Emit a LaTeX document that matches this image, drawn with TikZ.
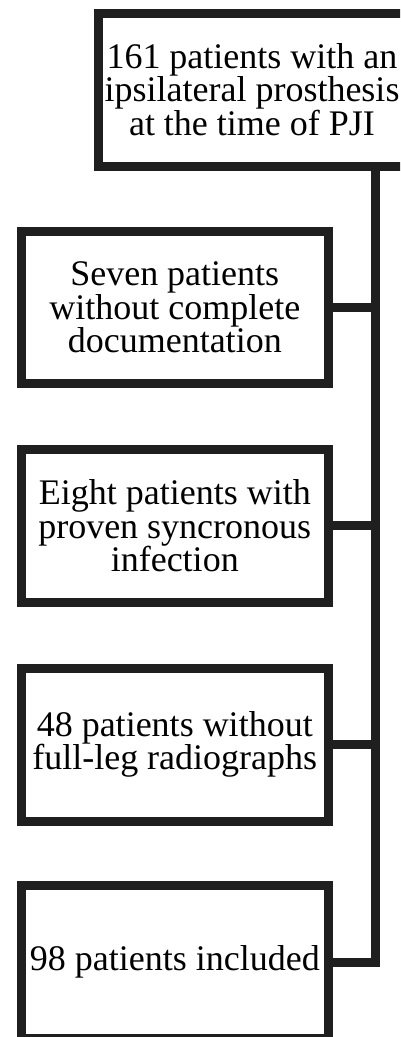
\documentclass[tikz,border=0pt]{standalone}
\usepackage{fontspec}
\setmainfont{Liberation Serif}
\begin{document}
\begin{tikzpicture}[x=1pt,y=-1pt,
  boxnode/.style={draw=black!88,line width=9pt,minimum width=306.5pt,minimum height=152pt,
    inner sep=0pt,align=center,font=\fontsize{36}{33.5}\selectfont},
  conn/.style={draw=black!88,line width=9pt}]
\clip (0,0) rectangle (400,1037);
\fill[white] (0,0) rectangle (400,1037);
\node[boxnode,minimum width=308pt,minimum height=153pt] (top) at (252,89.5)
  {161 patients with an\\ipsilateral prosthesis\\at the time of PJI};
\node[boxnode] (b2) at (174.75,307.5) {Seven patients\\without complete\\documentation};
\node[boxnode,minimum height=152.5pt] (b3) at (174.75,525.75) {Eight patients with\\proven syncronous\\infection};
\node[boxnode,minimum height=153pt] (b4) at (174.75,744.5) {48 patients without\\full-leg radiographs};
\node[boxnode,minimum height=153pt] (b5) at (174.75,962) {98 patients included};
\coordinate (vx) at (375,0);
\draw[conn] (top.south -| vx) |- (b5.east);
\draw[conn] (b2.east) -- (b2.east -| vx);
\draw[conn] (b3.east) -- (b3.east -| vx);
\draw[conn] (b4.east) -- (b4.east -| vx);
\end{tikzpicture}
\end{document}
